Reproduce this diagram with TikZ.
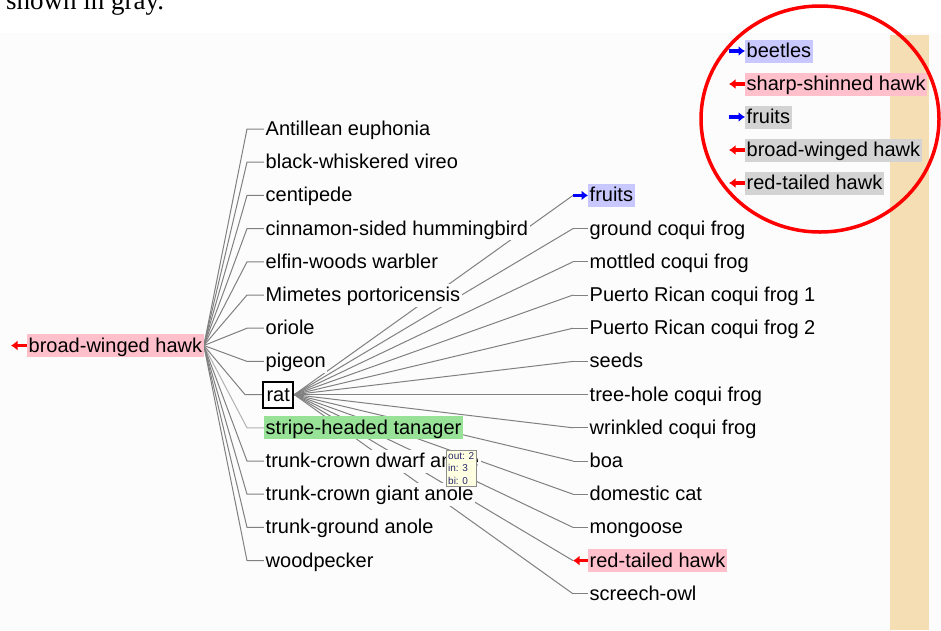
\documentclass[tikz,border=0pt]{standalone}
\usepackage{fontspec}
\setmainfont{Liberation Sans}
\newfontfamily\serifpaper{Liberation Serif}
\usetikzlibrary{arrows.meta, positioning}
\definecolor{hlpink}{RGB}{255,192,203}
\definecolor{hlblue}{RGB}{200,200,255}
\definecolor{hlgray}{RGB}{211,211,211}
\definecolor{hlgreen}{RGB}{152,226,152}
\definecolor{wheatband}{RGB}{245,222,179}
\definecolor{panelbg}{RGB}{252,252,252}
\definecolor{tipyellow}{RGB}{255,255,225}
\definecolor{tiptext}{RGB}{40,40,110}
\pgfdeclarelayer{bg}
\pgfdeclarelayer{fan}
\pgfsetlayers{bg,fan,main}

\begin{document}
\begin{tikzpicture}[x=1pt, y=-1pt,
  spnode/.style={anchor=west, fill=panelbg, inner xsep=1.5pt, inner ysep=0pt,
    text height=18pt, text depth=5pt, font=\fontsize{20}{24}\selectfont},
  ratnode/.style={spnode, draw=black, line width=2pt, fill=white, inner xsep=3.5pt,
    inner ysep=1.5pt, xshift=-2pt},
  tanagernode/.style={spnode, fill=hlgreen},
  preynode/.style={spnode, fill=hlblue},
  prednode/.style={spnode, fill=hlpink},
  fanline/.style={line width=1pt},
  inarr/.style={red, line width=3.2pt, {Latex[length=6.5pt,width=10pt]}-},
  outarr/.style={blue, line width=3.2pt, -{Latex[length=6.5pt,width=10pt]}},
  tipbox/.style={anchor=north west, draw=black!45, fill=tipyellow, text=tiptext,
    font=\fontsize{10}{12.5}\selectfont, align=left, inner sep=2pt}
]
\useasboundingbox (0,0) rectangle (941,630);

% page text and panel
\node[anchor=base west, inner sep=0pt, font={\serifpaper\fontsize{27}{30}\selectfont}] (caption) at (6,9) {shown in gray.};
\begin{pgfonlayer}{bg}
  \fill[panelbg] (0,33) rectangle (941,630);
  \fill[wheatband] (890,35) rectangle (929,630);
\end{pgfonlayer}

% focus species
\node[prednode] (hawk) at (27,345.5) {broad-winged hawk};
\draw[inarr] ([xshift=-16pt]hawk.west) -- (hawk.west);

% prey of the hawk
\foreach \name/\sty [count=\i] in {Antillean euphonia/spnode, black-whiskered vireo/spnode,
    centipede/spnode, cinnamon-sided hummingbird/spnode, elfin-woods warbler/spnode,
    Mimetes portoricensis/spnode, oriole/spnode, pigeon/spnode, rat/ratnode,
    stripe-headed tanager/tanagernode, trunk-crown dwarf anole/spnode,
    trunk-crown giant anole/spnode, trunk-ground anole/spnode, woodpecker/spnode} {
    \pgfmathsetmacro{\ypos}{129+33.2*(\i-1)}
    \node[\sty] (L\i) at (264,\ypos) {\name};
}

% neighbours of the rat
\foreach \name/\sty [count=\j] in {fruits/preynode, ground coqui frog/spnode,
    mottled coqui frog/spnode, Puerto Rican coqui frog 1/spnode,
    Puerto Rican coqui frog 2/spnode, seeds/spnode, tree-hole coqui frog/spnode,
    wrinkled coqui frog/spnode, boa/spnode, domestic cat/spnode, mongoose/spnode,
    red-tailed hawk/prednode, screech-owl/spnode} {
    \pgfmathsetmacro{\ypos}{129+33.2*(\j+1)}
    \node[\sty] (R\j) at (588,\ypos) {\name};
}

% connections
\begin{pgfonlayer}{fan}
\foreach \i in {1,...,14} {
    \pgfmathtruncatemacro{\shade}{\i==10 ? 30 : 50}
    \draw[fanline, draw=black!\shade] (hawk.east) -- ([xshift=-17pt]L\i.west) -- (L\i.west);
}
\foreach \j in {1,...,13}
    \draw[fanline, draw=black!50] (L9.east) -- ([xshift=-15pt]R\j.west);
\foreach \j in {2,...,11,13}
    \draw[fanline, draw=black!50] ([xshift=-15pt]R\j.west) -- (R\j.west);
\end{pgfonlayer}
\draw[outarr] ([xshift=-15pt]R1.west) -- (R1.west);
\draw[inarr] ([xshift=-15pt]R12.west) -- (R12.west);

% mouse-over info
\node[tipbox] (tip) at (446,450) {out: 2\\in: 3\\bi: 0};

% legend of the circled list
\foreach \name/\sty/\dir [count=\k] in {beetles/hlblue/outarr, sharp-shinned hawk/hlpink/inarr,
    fruits/hlgray/outarr, broad-winged hawk/hlgray/inarr, red-tailed hawk/hlgray/inarr} {
    \pgfmathsetmacro{\ypos}{51+33*(\k-1)}
    \node[spnode, fill=\sty] (C\k) at (745,\ypos) {\name};
    \draw[\dir] ([xshift=-16pt]C\k.west) -- (C\k.west);
}
\draw[red, line width=3.5pt] (820,119) ellipse [x radius=119, y radius=113];
\end{tikzpicture}
\end{document}
